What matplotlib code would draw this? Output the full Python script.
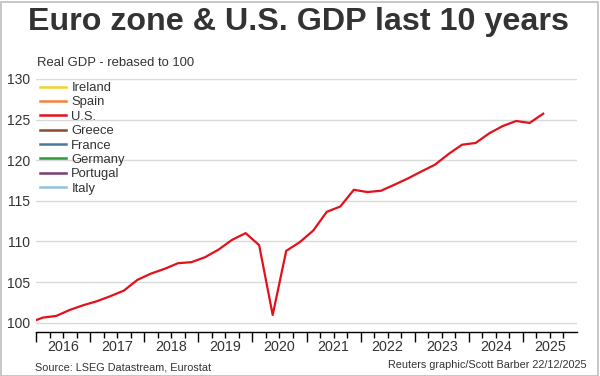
import matplotlib
matplotlib.use("Agg")
import matplotlib.pyplot as plt
from matplotlib.lines import Line2D
from matplotlib.patches import Rectangle
import matplotlib.transforms as mtransforms

plt.rcParams['font.family'] = ['Liberation Sans', 'DejaVu Sans']

# Quarterly U.S. real GDP, rebased to 100 (Q4 2015 .. Q2 2025)
quarters = ["2015Q4",
            "2016Q1", "2016Q2", "2016Q3", "2016Q4",
            "2017Q1", "2017Q2", "2017Q3", "2017Q4",
            "2018Q1", "2018Q2", "2018Q3", "2018Q4",
            "2019Q1", "2019Q2", "2019Q3", "2019Q4",
            "2020Q1", "2020Q2", "2020Q3", "2020Q4",
            "2021Q1", "2021Q2", "2021Q3", "2021Q4",
            "2022Q1", "2022Q2", "2022Q3", "2022Q4",
            "2023Q1", "2023Q2", "2023Q3", "2023Q4",
            "2024Q1", "2024Q2", "2024Q3", "2024Q4",
            "2025Q1", "2025Q2"]
us_gdp = [100.0,
          100.62, 100.83, 101.57, 102.15,
          102.64, 103.26, 103.95, 105.27,
          106.04, 106.62, 107.32, 107.45,
          108.06, 109.00, 110.20, 111.02,
          109.54, 100.95, 108.84, 109.91,
          111.34, 113.65, 114.30, 116.36,
          116.08, 116.24, 116.98, 117.76,
          118.62, 119.45, 120.76, 121.91,
          122.12, 123.30, 124.20, 124.83,
          124.59, 125.73]

legend_names = ["Ireland", "Spain", "U.S.", "Greece", "France", "Germany", "Portugal", "Italy"]
legend_colors = ["#f2d22e", "#f4803a", "#e3111b", "#8c4a2f", "#4b7898", "#2e9a36", "#7b3f6e", "#8fc3d6"]

year_labels = ["2016", "2017", "2018", "2019", "2020", "2021", "2022", "2023", "2024", "2025"]
y_ticks = [100, 105, 110, 115, 120, 125, 130]


def q_to_x(q):
    y = int(q[:4])
    n = int(q[-1])
    return y + (n - 0.5) / 4.0


xs = [q_to_x(q) for q in quarters]

fig = plt.figure(figsize=(6, 3.76), dpi=100)
fig.patch.set_facecolor("white")

W, H = 600.0, 376.0
left_px, right_px, top_px, bottom_px = 36, 577, 79, 332
ax = fig.add_axes([left_px / W, 1 - bottom_px / H, (right_px - left_px) / W, (bottom_px - top_px) / H])

ax.plot(xs, us_gdp, color="#e3111b", linewidth=1.6, solid_joinstyle="round", zorder=3)

ax.set_xlim(2016, 2026)
ax.set_ylim(98.85, 130)

ax.set_yticks(y_ticks)
ax.set_yticklabels([str(v) for v in y_ticks])
ax.tick_params(axis="y", length=0, pad=4, labelsize=10, labelcolor="#333333")
ax.yaxis.grid(True, color="#d9d9d9", linewidth=1)
ax.set_axisbelow(True)

years = list(range(2016, 2027))
ax.set_xticks(years[:-1])
ax.set_xticklabels([])
ax.set_xticks([y + q / 4 for y in years[:-1] for q in (1, 2, 3)], minor=True)
ax.tick_params(axis="x", which="major", length=7, width=1, color="black", direction="out")
ax.tick_params(axis="x", which="minor", length=4, width=1, color="black", direction="out")

for s in ("top", "right", "left"):
    ax.spines[s].set_visible(False)
ax.spines["bottom"].set_color("black")
ax.spines["bottom"].set_linewidth(1)

trans = mtransforms.blended_transform_factory(ax.transData, fig.transFigure)
for i, lab in enumerate(year_labels):
    ax.text(2016 + i + 0.5, 1 - 347 / H, lab, transform=trans, ha="center", va="center",
            fontsize=10.3, color="#333333")

# Title and annotations
fig.text(298 / W, 1 - 22 / H, "Euro zone & U.S. GDP last 10 years", ha="center", va="center",
         fontsize=23.2, fontweight="bold", color="#333333")
fig.text(37 / W, 1 - 63 / H, "Real GDP - rebased to 100", ha="left", va="center",
         fontsize=9.4, color="#333333")
fig.text(35 / W, 1 - 367 / H, "Source: LSEG Datastream, Eurostat", ha="left", va="center",
         fontsize=7.8, color="#333333")
fig.text(587 / W, 1 - 365 / H, "Reuters graphic/Scott Barber 22/12/2025", ha="right", va="center",
         fontsize=7.8, color="#333333")

handles = [Line2D([], [], color=c, linewidth=1.8) for c in legend_colors]
leg = fig.legend(handles, legend_names, loc="upper left", bbox_to_anchor=(40 / W, 1 - 82 / H),
                 frameon=False, fontsize=9.4, handlelength=2.0, handletextpad=0.4,
                 labelspacing=0.17, borderpad=0, borderaxespad=0)
for t in leg.get_texts():
    t.set_color("#333333")

# figure border
fig.patches.append(Rectangle((0.5 / W, 0.5 / H), 1 - 3 / W, 1 - 2 / H, transform=fig.transFigure,
                             fill=False, edgecolor="#bdbdbd", linewidth=1.2))

fig.savefig("out.png", dpi=100)
